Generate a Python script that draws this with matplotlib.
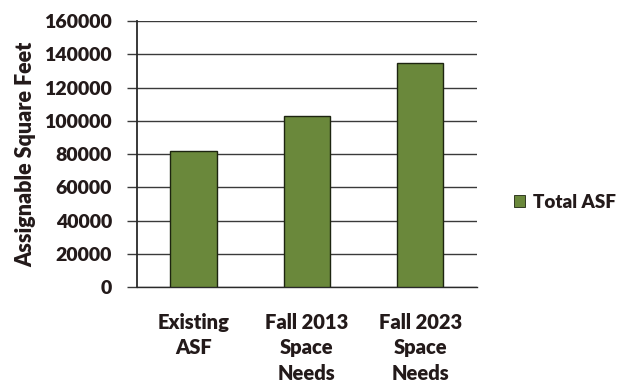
import matplotlib
matplotlib.use("Agg")
import matplotlib.pyplot as plt
from matplotlib.patches import Patch

categories = ["Existing\nASF", "Fall 2013\nSpace\nNeeds", "Fall 2023\nSpace\nNeeds"]
total_asf = [82000, 103000, 135000]
y_ticks = [0, 20000, 40000, 60000, 80000, 100000, 120000, 140000, 160000]
series_name = "Total ASF"

plt.rcParams["font.family"] = ["Lato", "DejaVu Sans"]
WEIGHT = "heavy"

bar_color = "#6a883b"
text_color = "#231a1a"

fig = plt.figure(figsize=(6.24, 3.87), dpi=100)
ax = fig.add_axes([0.2196, 0.2584, 0.5444, 0.6873])

x = range(len(categories))
ax.bar(x, total_asf, width=0.41, color=bar_color, edgecolor="#1d2410",
       linewidth=1.0, zorder=3)

ax.set_xlim(-0.5, len(categories) - 0.5)
ax.set_ylim(0, 160000)
ax.set_yticks(y_ticks)
ax.set_yticklabels([str(v) for v in y_ticks], fontsize=14,
                   fontweight=WEIGHT, color=text_color)
ax.set_xticks(list(x))
ax.set_xticklabels(categories, fontsize=14.5, fontweight=WEIGHT,
                   color=text_color, linespacing=1.38)

ax.yaxis.grid(True, color="#3a3a3a", linewidth=1.0, zorder=0)
ax.set_axisbelow(True)
for side in ("top", "right"):
    ax.spines[side].set_visible(False)
ax.spines["left"].set_color("#2a2a2a")
ax.spines["left"].set_linewidth(1.3)
ax.spines["bottom"].set_color("#2a2a2a")
ax.spines["bottom"].set_linewidth(1.0)
ax.tick_params(axis="y", direction="out", length=7, width=1.0,
               color="#3a3a3a", pad=11)
ax.tick_params(axis="x", length=0, pad=19)

ax.set_ylabel("Assignable Square Feet", fontsize=15.5, fontweight=WEIGHT,
              color=text_color, labelpad=6)

handle = Patch(facecolor=bar_color, edgecolor="#1d2410", linewidth=0.6)
fig.legend([handle], [series_name], loc="center left",
           bbox_to_anchor=(0.823, 0.478), frameon=False, borderaxespad=0,
           borderpad=0, prop={"size": 13.5, "weight": WEIGHT},
           handlelength=0.6, handleheight=0.6, handletextpad=0.45,
           labelcolor=text_color)

fig.savefig("out.png", dpi=100, facecolor="white")
